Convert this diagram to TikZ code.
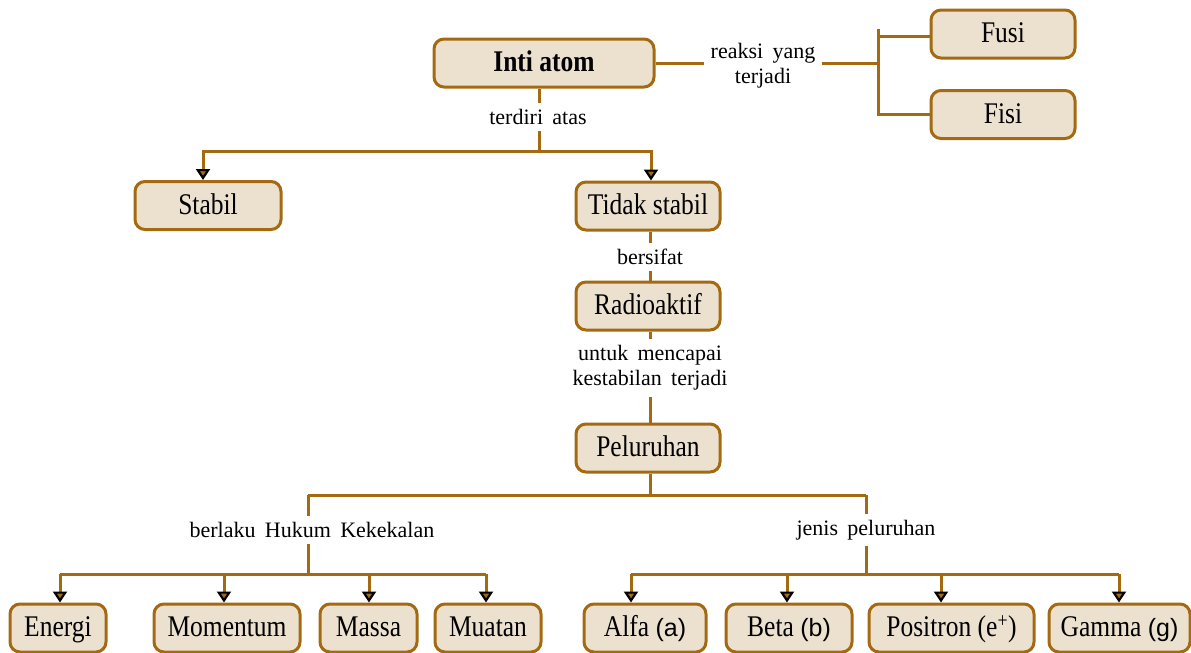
\documentclass[tikz,border=0pt]{standalone}
\usepackage{fontspec}
\setmainfont{Liberation Serif}
\newfontfamily\boxfont{Liberation Serif}[FakeStretch=0.85]
\newfontfamily\lblfont{Liberation Serif}[WordSpace=1.7]
\newfontfamily\symfont{Liberation Sans}
\usetikzlibrary{arrows.meta}
\definecolor{brn}{RGB}{163,106,18}
\definecolor{bfill}{RGB}{236,225,207}
\tikzset{
  box/.style={draw=brn, fill=bfill, line width=3pt, rounded corners=10pt,
    minimum height=48pt, inner sep=0pt, text height=22pt, text depth=5pt,
    font=\boxfont\fontsize{30}{32}\selectfont},
  lbl/.style={font=\lblfont\fontsize{22}{25}\selectfont, align=center,
    inner xsep=6pt, inner ysep=6pt},
  con/.style={draw=brn, line width=3pt},
  arr/.style={con, -{Triangle[width=14pt,length=11pt,color=black,fill=brn,line width=2.2pt]}},
}
\begin{document}
\begin{tikzpicture}[x=1pt,y=-1pt]
\useasboundingbox (0,0) rectangle (1191,653);
% boxes
\node[box, minimum width=220pt] (inti) at (544,63) {\bfseries Inti atom};
\node[box, minimum width=144pt] (fusi) at (1003,34) {Fusi};
\node[box, minimum width=144pt] (fisi) at (1003,114.5) {Fisi};
\node[box, minimum width=146pt] (stabil) at (208,205.5) {Stabil};
\node[box, minimum width=144pt] (tidak) at (648,206) {Tidak stabil};
\node[box, minimum width=144pt] (radio) at (648,306) {Radioaktif};
\node[box, minimum width=144pt] (pelur) at (648,448) {Peluruhan};
\node[box, minimum width=96pt] (energi) at (58,628) {Energi};
\node[box, minimum width=146pt] (momentum) at (227,628) {Momentum};
\node[box, minimum width=97pt] (massa) at (368.5,628) {Massa};
\node[box, minimum width=106pt] (muatan) at (488,628) {Muatan};
\node[box, minimum width=122pt] (alfa) at (645,628) {Alfa {\symfont\fontsize{25}{30}\selectfont(a)}};
\node[box, minimum width=126pt] (beta) at (789,628) {Beta {\symfont\fontsize{25}{30}\selectfont(b)}};
\node[box, minimum width=165pt] (positron) at (951.5,628) {Positron (e\textsuperscript{+})};
\node[box, minimum width=141pt] (gamma) at (1119.5,628) {Gamma {\symfont\fontsize{25}{30}\selectfont(g)}};
% labels
\node[lbl] (lblR) at (763,66) {reaksi yang\\terjadi};
\node[lbl] (lblA) at (538,117) {terdiri atas};
\node[lbl] (lblB) at (650,257) {bersifat};
\node[lbl] (lblC) at (650,368) {untuk mencapai\\kestabilan terjadi};
\node[lbl] (lblD) at (312,530) {berlaku Hukum Kekekalan};
\node[lbl] (lblE) at (866,530) {jenis peluruhan};
% top right
\coordinate (jR) at (878,63);
\coordinate (jRt) at (878,29);
\draw[con] (inti.east) -- (lblR.west |- inti.east);
\draw[con] (lblR.east |- inti.east) -- (jR);
\draw[con] (jRt) -- (jRt |- fisi.west) -- (fisi.west);
\draw[con] ([yshift=-2pt]jRt |- fusi.west) -- ([yshift=-2pt]fusi.west);
% inti down
\coordinate (j1) at (539,151);
\coordinate (aS) at (203,151);
\coordinate (aT) at (651,151);
\draw[con] (inti.south -| j1) -- (lblA.north -| j1);
\draw[con] (lblA.south -| j1) -- (j1);
\draw[arr] (j1) -- (aS) -- (aS |- stabil.north);
\draw[arr] (j1) -- (aT) -- (aT |- tidak.north);
% middle column
\coordinate (cx) at (650,0);
\draw[con] (tidak.south -| cx) -- (lblB.north -| cx);
\draw[con] (lblB.south -| cx) -- (radio.north -| cx);
\draw[con] (radio.south -| cx) -- (lblC.north -| cx);
\draw[con] (lblC.south -| cx) -- (pelur.north -| cx);
% peluruhan down
\coordinate (j2) at (650,495);
\coordinate (jL) at (308,495);
\coordinate (jE) at (866,495);
\draw[con] (pelur.south -| j2) -- (j2);
\draw[con] (jL) -- (jE);
\coordinate (hL) at (308,574);
\coordinate (hE) at (866,574);
\draw[con] (jL) -- (lblD.north -| jL);
\draw[con] (lblD.south -| jL) -- (hL);
\draw[con] (jE) -- (lblE.north -| jE);
\draw[con] (lblE.south -| jE) -- (hE);
\coordinate (hL1) at (60,574);
\coordinate (hL2) at (486,574);
\coordinate (hE1) at (631,574);
\coordinate (hE2) at (1119,574);
\draw[con] (hL1) -- (hL2);
\draw[con] (hE1) -- (hE2);
\draw[arr] (hL1) -- (hL1 |- energi.north);
\draw[arr] ([xshift=-3pt]momentum.north |- hL1) -- ([xshift=-3pt]momentum.north);
\draw[arr] ([xshift=0.5pt]massa.north |- hL1) -- ([xshift=0.5pt]massa.north);
\draw[arr] (hL2) -- (hL2 |- muatan.north);
\draw[arr] (hE1) -- (hE1 |- alfa.north);
\draw[arr] ([xshift=-2pt]beta.north |- hE1) -- ([xshift=-2pt]beta.north);
\draw[arr] ([xshift=-10.5pt]positron.north |- hE1) -- ([xshift=-10.5pt]positron.north);
\draw[arr] (hE2) -- (hE2 |- gamma.north);
\end{tikzpicture}
\end{document}
